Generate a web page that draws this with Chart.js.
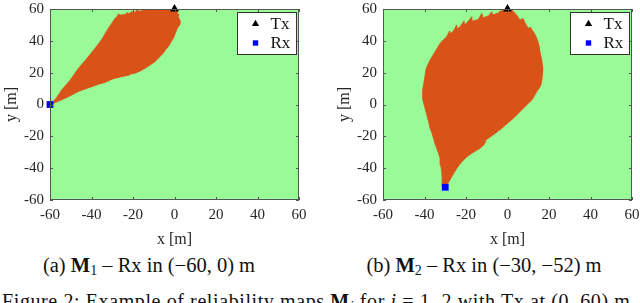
<!DOCTYPE html>
<html><head><meta charset="utf-8">
<script src="https://cdn.jsdelivr.net/npm/chart.js@4.4.0/dist/chart.umd.min.js"></script>
<style>
html,body{margin:0;padding:0;background:#fff;width:640px;height:303px;overflow:hidden;position:relative;}
canvas{position:absolute;top:0;}
#c1{left:0px}
#c2{left:333px}
.cap{position:absolute;font-family:"Liberation Serif",serif;white-space:nowrap;color:#111;text-align:center;}
.subcap{font-size:20.5px;line-height:20.5px;}
.figcap{font-size:20px;line-height:20px;letter-spacing:0.6px;}
.sub{font-size:0.68em;vertical-align:-0.2em;line-height:0;}
</style></head><body>
<canvas id="c1" width="318" height="250"></canvas>
<canvas id="c2" width="307" height="250"></canvas>
<div class="cap subcap" style="left:0px;top:255px;width:298px">(a) <b>M</b><span class="sub">1</span> – Rx in (−60, 0) m</div>
<div class="cap subcap" style="left:334px;top:255px;width:300px">(b) <b>M</b><span class="sub">2</span> – Rx in (−30, −52) m</div>
<div class="cap figcap" style="left:2px;top:290.5px;text-align:left">Figure 2: Example of reliability maps <b>M</b><span class="sub"><i>i</i></span> for <i>i</i> = 1, 2 with Tx at (0, 60) m</div>
<script>
// ---- data ----
const tickValues = [-60, -40, -20, 0, 20, 40, 60];
const txX = [0];
const txY = [60];
const rx1X = [-60];
const rx1Y = [0];
const rx2X = [-30];
const rx2Y = [-52];
// reliable region outline for M1 (Rx at (-60,0))
const regionM1X = [-60,-57,-54.4,-50.5,-46.3,-42.5,-38.3,-35,-31.9,-30,-28.7,-27.5,-27,-26.3,-24,-22.5,-22.2,-20.6,-19,-18,-17.6,-14.2,-12,-9.4,-6,-3,-1.4,0.5,1.8,1.2,2.2,1.8,2.8,2.6,1.6,1.0,0.2,-0.6,-1.8,-3.0,-4.2,-5.4,-7.5,-9.4,-11.8,-14.2,-16.5,-19.0,-21,-22,-25.5,-29.5,-33.5,-36.8,-39.9,-43,-46.4,-49.5,-52.8,-56,-59.2];
const regionM1Y = [0,4,9.1,15,22.7,28.5,35.3,41,47.9,51.5,54.1,55.5,57,56.2,56.5,57.8,56.8,58.3,58,59.5,58.4,59.4,59.8,60,60,60,60,60,59.4,57.5,56.5,55.2,52.5,50,48.5,46.8,44,41.6,39,36.3,34.5,32.2,29.5,26.9,24.8,22.7,21,19.6,19.2,18.4,17.5,16.2,13.9,12.6,11.2,9.8,8.1,6,3.9,2,0.3];
// reliable region outline for M2 (Rx at (-30,-52))
const regionM2X = [-30,-31.2,-31.5,-31.7,-32.2,-32.5,-33.3,-34.1,-35,-35.7,-36.4,-37.3,-38,-38.9,-39.5,-40.2,-40.8,-40.8,-41,-40.5,-40,-39.6,-39.2,-38.2,-37.3,-36,-34.9,-33.7,-32.5,-31,-29.3,-28,-27.8,-26,-24.5,-24.2,-22.8,-21,-20.6,-20,-17.2,-17,-14,-12.4,-11.8,-9,-7.6,-7,-4.5,-3.6,-2,0,1.5,2,3.5,4.4,5,6,7.5,8.4,10,11,12.4,13.5,14.1,14.8,15.3,15.8,16.5,16.9,16.9,16.6,16.1,15.2,14.1,13,11.7,9.8,7.6,5.2,2.8,0,-2.8,-6,-9.2,-10.5,-11,-13.2,-15.2,-17.2,-19.2,-21.2,-22.9,-24.4,-25.7,-26.8,-28,-29.2];
const regionM2Y = [-52,-51.6,-47,-42.2,-38,-33.8,-30.5,-27.5,-24.5,-21.2,-18,-15,-11,-6.6,-3.5,-0.3,3,6,9,12.3,16,19.5,22.7,25.5,28,30.8,33.2,35.8,38.4,40.5,42.6,46,44.2,46.2,50,47.6,48.9,52.5,50.3,50.6,55.2,52.3,53.5,57.3,54.5,55.8,58.3,56.3,57.5,58.6,59.3,60,60,59.5,57.5,56.2,55,53.1,54,51.5,47.9,48.5,45.8,43.5,41.6,39,36.3,32,28,24,19.6,15.5,12.3,10,8.1,5.5,2.8,0.4,-2.4,-5.6,-8.7,-11.8,-15,-18.2,-21.2,-22.5,-24.8,-27.5,-29,-30.7,-32.5,-34.8,-37.4,-40.1,-42.8,-45.3,-48,-50.6];

const GREEN = '#98fb98';
const ORANGE = '#d95319';
const FONT = '"Liberation Serif", serif';
const AXIS = '#262626';

function pts(xs, ys){ return xs.map((x,i)=>({x:x, y:ys[i]})); }

const framePlugin = {
  id:'frame',
  beforeDatasetsDraw(chart){
    const {ctx, chartArea:a} = chart;
    ctx.save();
    ctx.fillStyle = GREEN;
    ctx.fillRect(a.left, a.top, a.right-a.left, a.bottom-a.top);
    ctx.restore();
  },
  afterDatasetsDraw(chart){
    const {ctx, chartArea:a, scales} = chart;
    ctx.save();
    ctx.strokeStyle = '#555';
    ctx.lineWidth = 1;
    ctx.strokeRect(Math.round(a.left)+0.5, Math.round(a.top)+0.5, Math.round(a.right-a.left)-1, Math.round(a.bottom-a.top)-1);
    const L = 3;
    ctx.beginPath();
    scales.x.ticks.forEach(t=>{
      const px = Math.round(scales.x.getPixelForValue(t.value))+0.5;
      ctx.moveTo(px, a.bottom); ctx.lineTo(px, a.bottom-L);
      ctx.moveTo(px, a.top); ctx.lineTo(px, a.top+L);
    });
    scales.y.ticks.forEach(t=>{
      const py = Math.round(scales.y.getPixelForValue(t.value))+0.5;
      ctx.moveTo(a.left, py); ctx.lineTo(a.left+L, py);
      ctx.moveTo(a.right, py); ctx.lineTo(a.right-L, py);
    });
    ctx.stroke();
    ctx.restore();
  },
  afterDraw(chart){
    const {ctx, chartArea:a} = chart;
    const items = chart.data.datasets.filter(d=>d.label && d.label!=='region');
    const bx = Math.round(a.right) - 61.5, by = Math.round(a.top) + 3.5, bw = 59, bh = 42;
    ctx.save();
    ctx.fillStyle = '#fff';
    ctx.fillRect(bx, by, bw, bh);
    ctx.strokeStyle = '#333';
    ctx.lineWidth = 1;
    ctx.strokeRect(bx, by, bw, bh);
    ctx.font = '17px ' + FONT;
    ctx.textBaseline = 'middle';
    items.forEach((d,i)=>{
      const cy = by + 11.5 + i*19;
      ctx.fillStyle = d.backgroundColor;
      ctx.beginPath();
      if (d.pointStyle==='triangle'){
        const r=4.2; ctx.moveTo(bx+18, cy-r); ctx.lineTo(bx+18+r*0.866, cy+r/2); ctx.lineTo(bx+18-r*0.866, cy+r/2); ctx.closePath();
      } else { ctx.rect(bx+18-2.7, cy-2.7, 5.4, 5.4); }
      ctx.fill();
      ctx.fillStyle = '#111';
      ctx.fillText(d.label, bx+33, cy+1);
    });
    ctx.restore();
  }
};

function axisOpts(title, horizontal){
  return {
    type:'linear', min:-60, max:60,
    afterBuildTicks(scale){ scale.ticks = tickValues.map(v=>({value:v})); },
    ticks:{ font:{family:FONT, size:15}, color:AXIS, padding:6, maxRotation:0, autoSkip:false },
    grid:{ display:false, drawTicks:false },
    border:{ display:false },
    title:{ display:true, text:title, font:{family:FONT, size:16}, color:AXIS, padding: horizontal ? {top:2,bottom:1} : {top:2,bottom:2} },
    afterFit(scale){
      if (horizontal) scale.height = 50; else scale.width = 50;
      scale.paddingLeft = 0; scale.paddingRight = 0; scale.paddingTop = 0; scale.paddingBottom = 0;
    }
  };
}

function makeChart(id, rX, rY, rxX, rxY, padRight){
  return new Chart(document.getElementById(id), {
    type:'scatter',
    data:{ datasets:[
      { label:'region', data:pts(rX, rY), showLine:true, fill:'shape', backgroundColor:ORANGE, borderColor:ORANGE, borderWidth:0.8, pointRadius:0, tension:0, order:3 },
      { label:'Tx', data:pts(txX, txY), pointStyle:'triangle', pointRadius:5, backgroundColor:'#000', borderColor:'#000', borderWidth:0, clip:false, order:1 },
      { label:'Rx', data:pts(rxX, rxY), pointStyle:'rect', pointRadius:4.8, backgroundColor:'#0000ff', borderColor:'#0000ff', borderWidth:0, clip:false, order:2 }
    ]},
    options:{
      responsive:false, animation:false, events:[],
      layout:{ padding:{ top:9, right:padRight, left:0, bottom:0 } },
      plugins:{ legend:{display:false}, tooltip:{enabled:false} },
      scales:{ x: axisOpts('x [m]', true), y: axisOpts('y [m]', false) }
    },
    plugins:[framePlugin]
  });
}

const charts = [
  makeChart('c1', regionM1X, regionM1Y, rx1X, rx1Y, 19),
  makeChart('c2', regionM2X, regionM2Y, rx2X, rx2Y, 8)
];
Promise.all([
  document.fonts.load('15px "Liberation Serif"'),
  document.fonts.load('17px "Liberation Serif"')
]).then(()=>{ charts.forEach(c=>c.update()); });
</script>
</body></html>
